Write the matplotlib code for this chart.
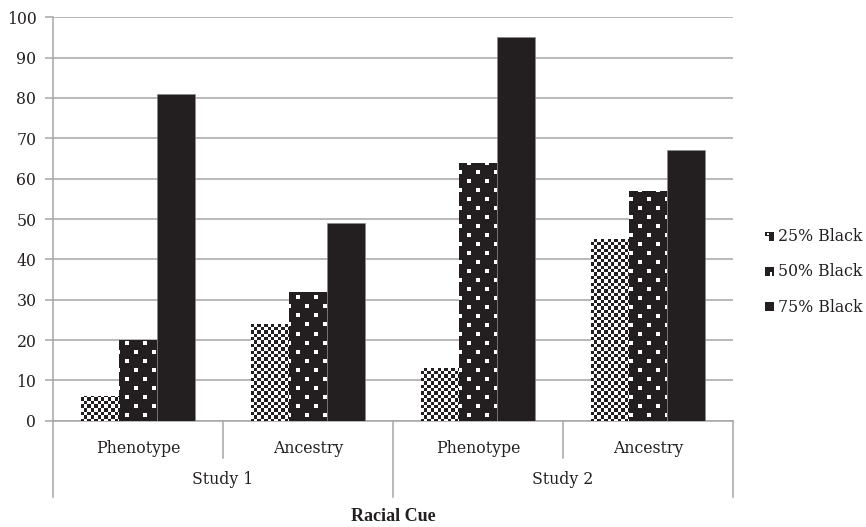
import numpy as np
import matplotlib
matplotlib.use("Agg")
import matplotlib.pyplot as plt
import matplotlib.transforms as mtransforms
from matplotlib.patches import Rectangle
from matplotlib.legend_handler import HandlerBase
from matplotlib.colors import ListedColormap

groups = ["Phenotype", "Ancestry", "Phenotype", "Ancestry"]
studies = ["Study 1", "Study 2"]
series = ["25% Black", "50% Black", "75% Black"]
black25 = [6, 24, 13, 45]
black50 = [20, 32, 64, 57]
black75 = [81, 49, 95, 67]

INK = "#231f20"
GRID = "#a6a6a6"
FS = 11.3
plt.rcParams["font.family"] = ["DejaVu Serif"]

W, H = 866, 527
fig = plt.figure(figsize=(W / 100, H / 100), dpi=100)
ax = fig.add_axes([53 / W, 1 - 420.7 / H, 680 / W, 403.4 / H])
ax.set_xlim(-0.5, 3.5)
ax.set_ylim(0, 100)

# pixel textures for the patterned bars
pw, ph = 680, 404
yy, xx = np.mgrid[0:ph, 0:pw]
checker = ((np.floor(xx / 3.4) + np.floor(yy / 3.4)) % 2).astype(float)
row = yy // 9
dotted = ((((xx + (row % 2) * 9) % 18) < 4) & ((yy % 9) < 4)).astype(float)
cmap = ListedColormap([INK, "white"])

x = np.arange(len(groups))
bw = 0.222
values = [black25, black50, black75]
textures = [checker, dotted, None]
for i, (vals, tex) in enumerate(zip(values, textures)):
    bars = ax.bar(x + (i - 1) * bw, vals, bw, color=INK, edgecolor="#8a8a8a",
                  linewidth=0.4, zorder=3)
    if tex is not None:
        for b in bars:
            im = ax.imshow(tex, cmap=cmap, vmin=0, vmax=1, extent=[-0.5, 3.5, 0, 100],
                           aspect="auto", interpolation="nearest", zorder=3.5)
            im.set_clip_path(b)
ax.set_xlim(-0.5, 3.5)
ax.set_ylim(0, 100)

ax.set_yticks(range(0, 101, 10))
ax.yaxis.grid(True, color=GRID, linewidth=1.1)
ax.set_axisbelow(True)
for s in ["top", "right"]:
    ax.spines[s].set_visible(False)
for s in ["left", "bottom"]:
    ax.spines[s].set_color(GRID)
    ax.spines[s].set_linewidth(1.1)
ax.tick_params(axis="y", length=6, color=GRID, width=1.1, labelsize=FS,
               labelcolor=INK, pad=6)
ax.set_xticks([])

# multi-level category axis
tr = mtransforms.blended_transform_factory(ax.transData, ax.transAxes)
for xs in [0.5, 2.5]:
    ax.plot([xs, xs], [0, -0.0925], transform=tr, color=GRID, lw=1.1, clip_on=False)
for xs in [-0.5, 1.5, 3.5]:
    ax.plot([xs, xs], [0, -0.189], transform=tr, color=GRID, lw=1.1, clip_on=False)
for xi, g in zip(x, groups):
    ax.text(xi, -0.068, g, transform=tr, ha="center", va="center", fontsize=FS, color=INK)
for k, s in enumerate(studies):
    ax.text(2 * k + 0.5, -0.147, s, transform=tr, ha="center", va="center",
            fontsize=FS, color=INK)
ax.text(1.5, -0.237, "Racial Cue", transform=tr, ha="center", va="center",
        fontsize=13, fontweight="bold", color=INK,
        family=["Liberation Serif", "DejaVu Serif"])


class SwatchHandler(HandlerBase):
    def create_artists(self, legend, orig_handle, xdescent, ydescent, width, height,
                       fontsize, trans):
        kind = orig_handle
        s = min(width, height)
        x0, y0 = -xdescent + width - s, -ydescent
        arts = []
        if kind == 0:
            arts.append(Rectangle((x0, y0), s, s, facecolor="white", edgecolor="none",
                                  transform=trans))
            h = s / 2
            for cx, cy in [(0, 1), (1, 0), (1, 1)]:
                arts.append(Rectangle((x0 + cx * h, y0 + cy * h), h, h, facecolor=INK,
                                      edgecolor="none", transform=trans))
            arts.append(Rectangle((x0 + h * 0.5, y0 + h * 1.2), h * 0.5, h * 0.5,
                                  facecolor="white", edgecolor="none", transform=trans))
        elif kind == 1:
            arts.append(Rectangle((x0, y0), s, s, facecolor=INK, edgecolor="none",
                                  transform=trans))
            arts.append(Rectangle((x0 + s * 0.55, y0), s * 0.25, s * 0.4,
                                  facecolor="white", edgecolor="none", transform=trans))
        else:
            arts.append(Rectangle((x0, y0), s, s, facecolor=INK, edgecolor="none",
                                  transform=trans))
        return arts


leg = fig.legend([0, 1, 2], series, handler_map={int: SwatchHandler()},
                 loc="center left", bbox_to_anchor=(765 / W, 1 - 272 / H),
                 frameon=False, fontsize=FS, handlelength=0.55, handleheight=0.55,
                 handletextpad=0.3, labelspacing=1.15, borderpad=0, borderaxespad=0)
for t in leg.get_texts():
    t.set_color(INK)

fig.savefig("out.png", dpi=100)
